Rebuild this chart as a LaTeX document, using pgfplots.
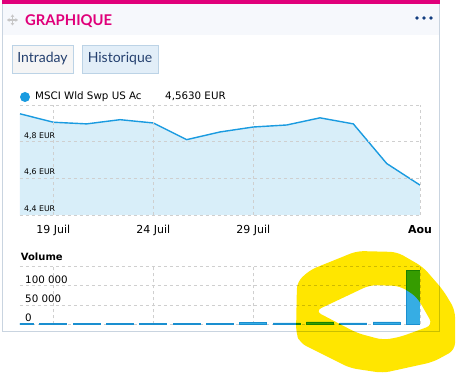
\documentclass[border=0pt]{standalone}
\usepackage{pgfplots}
\usepackage{pgfplotstable}
\pgfplotsset{compat=1.18}
\usetikzlibrary{arrows.meta}
\usepackage{fontspec}
\setmainfont{DejaVu Sans}
\newfontfamily\latofont{Lato}

\definecolor{magentac}{HTML}{E0007A}
\definecolor{linec}{HTML}{1A9BE0}
\definecolor{fillc}{HTML}{D8EEF9}
\definecolor{gridc}{HTML}{CFCFCF}
\definecolor{barc}{HTML}{36ADE4}
\definecolor{bard}{HTML}{1A8FD0}
\definecolor{bordc}{HTML}{C9D4E0}
\definecolor{btnbord}{HTML}{BCD3E6}
\definecolor{btnfill}{HTML}{E2EEF8}
\definecolor{hdrbg}{HTML}{F6F8FC}
\definecolor{navy}{HTML}{123D7F}
\definecolor{btntext}{HTML}{24406F}
\definecolor{hl}{HTML}{FFE600}

\pgfplotstableread{
idx price
0 4.952
1 4.906
2 4.897
3 4.920
4 4.902
5 4.811
6 4.853
7 4.880
8 4.891
9 4.930
10 4.897
11 4.681
12 4.563
}\pricetable

\pgfplotstableread{
idx vol
0 1500
1 1500
2 1500
3 1500
4 1500
5 1500
6 1500
7 4500
8 3500
9 6000
10 3500
11 6000
12 140000
}\voltable

\pgfplotsset{
  chartbase/.style={
    scale only axis,
    xmin=0, xmax=12,
    axis line style={draw=none},
    major tick length=0pt,
    xtick={1,4,7,12},
    grid=major,
    major grid style={gridc, dash pattern=on 3pt off 3pt, line width=0.8pt},
    clip=true,
    axis on top=true,
  }
}

\begin{document}
\begin{tikzpicture}[x=1pt,y=1pt]
% card
\fill[white] (0,0) rectangle (459,378);
\fill[hdrbg] (2.5,343) rectangle (439.5,374);
\draw[bordc, line width=0.9pt] (2.5,47) rectangle (439.5,375);
\fill[magentac] (2,374) rectangle (440,377.5);
% header
\node[anchor=base west, inner sep=0pt, text=magentac] at (25,352.3)
  {\latofont\bfseries\fontsize{14.8}{16}\selectfont GRAPHIQUE};
\draw[gray!45, line width=1.4pt, -{Stealth[length=2.6pt,width=3.8pt]}] (12.5,358) -- (18,358);
\draw[gray!45, line width=1.4pt, -{Stealth[length=2.6pt,width=3.8pt]}] (12.5,358) -- (7,358);
\draw[gray!45, line width=1.4pt, -{Stealth[length=2.6pt,width=3.8pt]}] (12.5,358) -- (12.5,363.5);
\draw[gray!45, line width=1.4pt, -{Stealth[length=2.6pt,width=3.8pt]}] (12.5,358) -- (12.5,352.5);
\foreach \xx in {417,424,431} \fill[navy] (\xx,360) circle (1.9);
% buttons
\filldraw[fill=black!4, draw=btnbord, line width=0.9pt] (12,305) rectangle (73,333);
\node[text=btntext] at (42.5,319) {\latofont\fontsize{14}{16}\selectfont Intraday};
\filldraw[fill=btnfill, draw=btnbord, line width=0.9pt] (82,305) rectangle (158,333);
\node[text=btntext] at (120,319) {\latofont\fontsize{14}{16}\selectfont Historique};
% legend
\fill[linec] (25,281) circle (5);
\node[anchor=base west, inner sep=0pt] at (35,278) {\fontsize{10.3}{12}\selectfont MSCI Wld Swp US Ac};
\node[anchor=base west, inner sep=0pt] at (165,278) {\fontsize{10.3}{12}\selectfont 4,5630 EUR};

% price chart
\begin{axis}[chartbase,
  at={(20pt,163pt)}, anchor=south west,
  width=400pt, height=110pt,
  ymin=4.4, ymax=5.0,
  ytick={4.4,4.6,4.8,5.0},
  yticklabels={{4,4 EUR},{4,6 EUR},{4,8 EUR},{}},
  yticklabel style={anchor=south west, inner sep=0pt, xshift=4pt, yshift=2.5pt, font=\fontsize{7.8}{9}\selectfont},
  xticklabels={19 Juil,24 Juil,29 Juil,\textbf{Aou}},
  xticklabel style={yshift=-7pt, font=\fontsize{11}{13}\selectfont},
]
\addplot[draw=none, fill=fillc] table[x=idx, y=price] {\pricetable} \closedcycle;
\addplot[linec, line width=1.4pt] table[x=idx, y=price] {\pricetable};
\end{axis}

\node[anchor=base west, inner sep=0pt] at (20.7,117.3) {\fontsize{10}{12}\selectfont\bfseries Volume};

% volume chart
\begin{axis}[chartbase,
  at={(20pt,53.7pt)}, anchor=south west,
  width=400pt, height=57.6pt,
  ymin=0, ymax=150000,
  ytick={0,50000,100000,150000},
  yticklabels={0,50 000,100 000,{}},
  scaled y ticks=false,
  yticklabel style={anchor=south west, inner sep=0pt, xshift=5pt, yshift=2pt, font=\fontsize{10.3}{12}\selectfont},
  xticklabels={},
  axis on top=false,
]
\addplot[ybar, bar width=27pt, fill=barc, draw=bard, line width=0.7pt] table[x=idx, y=vol] {\voltable};
\end{axis}

% highlighter annotation
\begin{scope}[blend mode=multiply]
\fill[hl, even odd rule, rounded corners=7pt]
  (296,45) -- (297,96) -- (310,108) -- (357,127) -- (397,126) -- (423,111) -- (443,88) -- (455,68) -- (455,28) -- (433,16) -- (383,5) -- (350,10) -- (300,35) -- cycle
  (315,67) -- (370,93) -- (400,92) -- (417,81) -- (433,53) -- (400,41) -- (383,38) -- (357,45) -- cycle;
\end{scope}

\pgfresetboundingbox
\useasboundingbox (0,0) rectangle (459,378);
\end{tikzpicture}
\end{document}
